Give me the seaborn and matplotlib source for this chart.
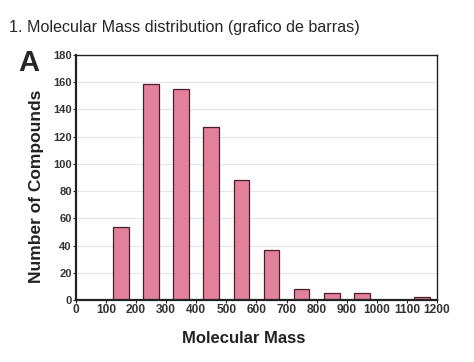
import pandas as pd
import matplotlib.pyplot as plt
import seaborn as sns

# Datos
centros = [150, 250, 350, 450, 550, 650, 750, 850, 950, 1050, 1150]
conteos = [54, 159, 155, 127, 88, 37, 8, 5, 5, 0, 2]

datos = pd.DataFrame({'Masa': centros, 'Compuestos': conteos})

sns.set_style("white")
plt.rcParams['font.family'] = ['Liberation Sans', 'DejaVu Sans']

fig = plt.figure(figsize=(4.74, 3.62), dpi=100)
ax = fig.add_axes([0.160, 0.171, 0.762, 0.677])

sns.barplot(data=datos, x='Masa', y='Compuestos', native_scale=True, width=0.52,
            color='#e2819b', edgecolor='#4a1e28', linewidth=0.9, saturation=1, ax=ax)

ax.set_xlim(0, 1200)
ax.set_ylim(0, 180)
ax.set_xticks(range(0, 1201, 100))
ax.set_yticks(range(0, 181, 20))
ax.yaxis.grid(True, color='#e6e6e6', linewidth=0.8)
ax.set_axisbelow(True)
for s in ax.spines.values():
    s.set_color('#222222')
    s.set_linewidth(1.0)
ax.spines['bottom'].set_linewidth(1.6)
ax.spines['left'].set_linewidth(1.6)
ax.tick_params(axis='x', labelsize=8.6, length=2, width=0.8, pad=1, bottom=True)
ax.tick_params(axis='y', labelsize=8, length=2, width=0.8, pad=1, left=True)
for lab in ax.get_xticklabels() + ax.get_yticklabels():
    lab.set_fontweight('bold')
    lab.set_color('#333333')

ax.set_xlabel('Molecular Mass', fontsize=12, fontweight='bold', color='#222222')
ax.set_ylabel('Number of Compounds', fontsize=12.5, fontweight='bold', color='#222222')
ax.xaxis.set_label_coords(0.465, -0.128)
ax.yaxis.set_label_coords(-0.088, 0.465)

fig.text(0.02, 0.945, '1. Molecular Mass distribution (grafico de barras)', fontsize=11.6, va='top')
fig.text(0.038, 0.825, 'A', fontsize=21, fontweight='bold', va='center')

fig.savefig('out.png', dpi=100)
